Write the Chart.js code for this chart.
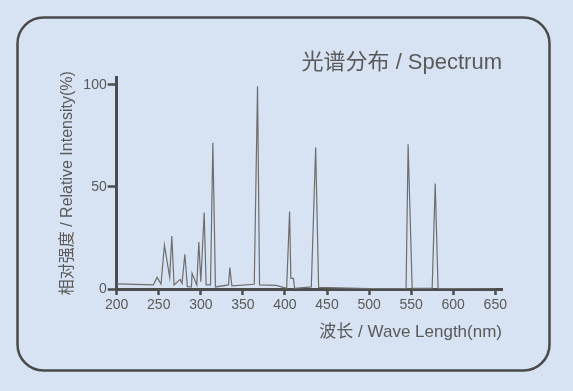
<!DOCTYPE html>
<html>
<head>
<meta charset="utf-8">
<script src="https://cdn.jsdelivr.net/npm/chart.js@4.4.1/dist/chart.umd.min.js"></script>
<style>
    html, body { margin: 0; padding: 0; background: #d7e2f2; }
    #wrap { width: 573px; height: 391px; position: relative; }
</style>
</head>
<body>
<div id="wrap"><canvas id="spectrum-chart"></canvas></div>
<script>
// Wavelengths (nm) and relative intensity (%)
const wavelengths = [200, 243.6, 248, 252.7, 256.7, 263, 265.5, 268.2, 275.4, 277.7,
    281, 284, 288.8, 289.6, 295.2, 297.6, 300, 304, 306.3, 311.5,
    314.3, 317.4, 332.9, 334.5, 336.9, 363.5, 367.4, 369.8, 389.6, 398,
    402, 405.5, 407, 410, 411.5, 431.3, 436.5, 440, 500, 544,
    546.4, 551.2, 575, 578.6, 582, 650];
const intensity = [2.5, 2, 5.7, 2.4, 21.5, 5.7, 26, 2, 4.7, 2.8,
    17, 1.1, 1, 7.7, 2, 23, 3.6, 37.5, 2, 2,
    71.7, 1, 2, 10.5, 1.5, 2.3, 99.3, 2, 1.8, 0.8,
    0.3, 38, 5.2, 5.2, 0.3, 1, 69.3, 0.8, 0.2, 0.3,
    70.9, 0.3, 0.3, 51.7, 0.3, 0];
const xTicks = [200, 250, 300, 350, 400, 450, 500, 550, 600, 650];
const yTicks = [0, 50, 100];

const chartTitle = '光谱分布 / Spectrum';
const xLabel = '波长 / Wave Length(nm)';
const yLabel = '相对强度 / Relative Intensity(%)';

const FONT = "'Liberation Sans', 'Noto Sans CJK SC', sans-serif";
const TEXT = '#5a5a5a';
const AXIS = '#4d4d4d';

// Rounded frame behind the chart
const framePlugin = {
    id: 'frame',
    beforeDraw(chart) {
        const ctx = chart.ctx;
        ctx.save();
        ctx.fillStyle = '#d7e2f2';
        ctx.fillRect(0, 0, chart.width, chart.height);
        ctx.beginPath();
        ctx.roundRect(17.5, 17.5, 532, 353, 26);
        ctx.lineWidth = 2.5;
        ctx.strokeStyle = '#4a4a4a';
        ctx.stroke();
        ctx.restore();
    }
};

const points = wavelengths.map((w, i) => ({ x: w, y: intensity[i] }));

new Chart(document.getElementById('spectrum-chart'), {
    type: 'line',
    data: {
        datasets: [{
            data: points,
            borderColor: '#6e6e6e',
            borderWidth: 1.2,
            pointRadius: 0,
            fill: false,
            tension: 0
        }]
    },
    options: {
        responsive: true,
        maintainAspectRatio: false,
        animation: false,
        layout: {
            padding: { top: 40, left: 40, right: 71, bottom: 0 }
        },
        plugins: {
            legend: { display: false },
            tooltip: { enabled: false },
            title: {
                display: true,
                text: chartTitle,
                align: 'end',
                color: TEXT,
                font: { family: FONT, size: 22, weight: 'normal' },
                padding: { top: 10, bottom: 1 }
            }
        },
        scales: {
            x: {
                type: 'linear',
                min: 200,
                max: 658,
                afterFit: (scale) => { scale.height = 102; },
                afterBuildTicks: (scale) => { scale.ticks = xTicks.map(v => ({ value: v })); },
                border: { display: true, color: AXIS, width: 3 },
                grid: { drawOnChartArea: false, drawTicks: true, tickLength: 6, tickWidth: 2.5, tickColor: AXIS },
                ticks: {
                    color: TEXT,
                    padding: 2,
                    maxRotation: 0,
                    font: { family: FONT, size: 14 }
                },
                title: {
                    display: true,
                    text: xLabel,
                    align: 'end',
                    color: TEXT,
                    font: { family: FONT, size: 17 },
                    padding: { top: 0, bottom: 48 }
                }
            },
            y: {
                min: 0,
                max: 103.7,
                afterFit: (scale) => { scale.width = 76.7; },
                afterBuildTicks: (scale) => { scale.ticks = yTicks.map(v => ({ value: v })); },
                border: { display: true, color: AXIS, width: 3 },
                grid: { drawOnChartArea: false, drawTicks: true, tickLength: 9, tickWidth: 2.5, tickColor: AXIS },
                ticks: {
                    color: TEXT,
                    padding: 1,
                    font: { family: FONT, size: 14 }
                },
                title: {
                    display: true,
                    text: yLabel,
                    color: TEXT,
                    font: { family: FONT, size: 16 },
                    padding: { top: 18, bottom: 0 }
                }
            }
        }
    },
    plugins: [framePlugin]
});
</script>
</body>
</html>
